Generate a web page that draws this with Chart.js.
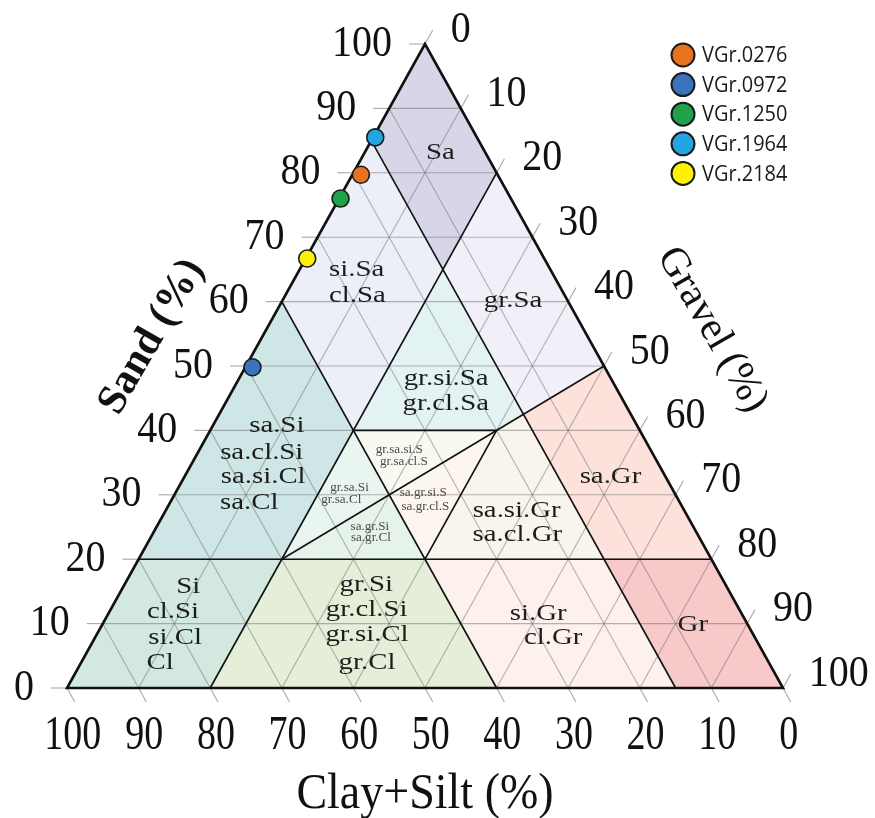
<!DOCTYPE html>
<html>
<head>
  <title>Ternary diagram - Sand / Gravel / Clay+Silt</title>
  <script src="https://cdn.jsdelivr.net/npm/chart.js"></script>
  <style>
    body { margin: 0; background: #fff; }
    #wrap { width: 875px; height: 818px; }
  </style>
</head>
<body>
  <div id="wrap"><canvas id="chart" width="875" height="818"></canvas></div>
  <script>
    // samples: sand % and gravel %, clay+silt is what is left
    var sampleNames = ['VGr.0276', 'VGr.0972', 'VGr.1250', 'VGr.1964', 'VGr.2184'];
    var sampleSand = [79.7, 49.8, 76.0, 85.5, 66.7];
    var sampleGravel = [1.2, 1.0, 0.2, 0.3, 0.2];
    var sampleColors = ['#e8731f', '#3b72bd', '#1fa34a', '#22a5e2', '#fff200'];

    var tickValues = [0, 10, 20, 30, 40, 50, 60, 70, 80, 90, 100];

    // classification fields, corners given as [sand, gravel]
    var regionNames = ['Sa', 'si.Sa', 'gr.Sa', 'gr.si.Sa', 'sa.Si', 'Si', 'gr.Si', 'si.Gr', 'Gr', 'sa.Gr', 'sa.si.Gr',
                       'gr.sa.Si', 'sa.gr.Si', 'gr.sa.si.S', 'sa.gr.si.S'];
    var regionCorners = [
      [[100, 0], [85, 0], [65, 20], [80, 20]],
      [[85, 0], [60, 0], [40, 20], [65, 20]],
      [[80, 20], [65, 20], [42.5, 42.5], [50, 50]],
      [[65, 20], [40, 20], [40, 40], [42.5, 42.5]],
      [[60, 0], [20, 0], [20, 20], [40, 20]],
      [[20, 0], [0, 0], [0, 20], [20, 20]],
      [[20, 20], [0, 20], [0, 60], [20, 40]],
      [[20, 40], [0, 60], [0, 85], [20, 65]],
      [[20, 65], [0, 85], [0, 100], [20, 80]],
      [[20, 65], [20, 80], [50, 50], [42.5, 42.5]],
      [[20, 40], [20, 65], [42.5, 42.5], [40, 40]],
      [[20, 20], [40, 20], [30, 30]],
      [[20, 20], [30, 30], [20, 40]],
      [[40, 20], [40, 40], [30, 30]],
      [[30, 30], [40, 40], [20, 40]]
    ];
    var regionColors = ['#d7d5e8', '#eceef8', '#f1f0f9', '#e3f3f3', '#cee6e5', '#d3e9e0', '#e4eed8', '#fdf1ed',
                        '#f7c9c9', '#fce2da', '#f9f5ec', '#e9f5ef', '#e5f3eb', '#f8f9f1', '#fcf6ef'];

    // field boundaries, [sand, gravel] -> [sand, gravel]
    var boundaries = [
      [[20, 0], [20, 80]],
      [[80, 20], [0, 20]],
      [[85, 0], [0, 85]],
      [[60, 0], [0, 60]],
      [[20, 20], [50, 50]],
      [[40, 20], [40, 40]],
      [[20, 40], [40, 40]]
    ];

    // field names, placed at [sand, gravel]
    var labelTexts = ['Sa', 'si.Sa', 'cl.Sa', 'gr.Sa', 'gr.si.Sa', 'gr.cl.Sa',
                      'sa.Si', 'sa.cl.Si', 'sa.si.Cl', 'sa.Cl', 'Si', 'cl.Si', 'si.Cl', 'Cl',
                      'gr.Si', 'gr.cl.Si', 'gr.si.Cl', 'gr.Cl', 'si.Gr', 'cl.Gr', 'Gr',
                      'sa.Gr', 'sa.si.Gr', 'sa.cl.Gr'];
    var labelSand = [83.1, 64.9, 60.9, 60.2, 48.1, 44.2, 40.8, 36.6, 32.8, 28.7, 15.7, 11.8, 7.8, 4.0,
                     16.0, 12.1, 8.2, 4.0, 11.6, 7.8, 9.8, 32.8, 27.6, 23.8];
    var labelGravel = [10.6, 8.0, 10.1, 32.2, 28.9, 30.8, 8.9, 8.9, 11.0, 11.1, 9.1, 8.9, 11.2, 11.0,
                       33.8, 35.8, 37.8, 39.9, 60.0, 64.0, 82.5, 59.5, 49.0, 51.0];
    var smallTexts = ['gr.sa.si.S', 'gr.sa.cl.S', 'gr.sa.Si', 'gr.sa.Cl', 'sa.gr.si.S', 'sa.gr.cl.S', 'sa.gr.Si', 'sa.gr.Cl'];
    var smallSand = [37.0, 35.1, 31.1, 29.2, 30.3, 28.1, 25.0, 23.3];
    var smallGravel = [27.9, 29.5, 23.9, 23.7, 34.6, 36.0, 29.8, 30.8];

    var SERIF = '"Liberation Serif", "Times New Roman", serif';

    function pt(chart, s, g) {
      return [chart.scales.x.getPixelForValue(g + s / 2), chart.scales.y.getPixelForValue(s)];
    }

    function txt(ctx, t, x, y, font, align, rot, sx, sy) {
      ctx.save();
      ctx.translate(x, y);
      if (rot) ctx.rotate(rot);
      ctx.scale(sx || 1, sy || 1);
      ctx.font = font;
      ctx.textAlign = align || 'center';
      ctx.textBaseline = 'middle';
      ctx.fillText(t, 0, 0);
      ctx.restore();
    }

    function line(ctx, a, b) {
      ctx.beginPath();
      ctx.moveTo(a[0], a[1]);
      ctx.lineTo(b[0], b[1]);
      ctx.stroke();
    }

    var ternaryPlugin = {
      id: 'ternary',
      beforeDatasetsDraw: function(chart) {
        var ctx = chart.ctx;
        ctx.save();

        // fields
        regionCorners.forEach(function(corners, i) {
          ctx.beginPath();
          corners.forEach(function(c, j) {
            var p = pt(chart, c[0], c[1]);
            if (j === 0) ctx.moveTo(p[0], p[1]); else ctx.lineTo(p[0], p[1]);
          });
          ctx.closePath();
          ctx.fillStyle = regionColors[i];
          ctx.fill();
        });

        // grid
        ctx.strokeStyle = 'rgba(110,110,110,0.5)';
        ctx.lineWidth = 1.1;
        tickValues.forEach(function(v) {
          if (v > 0 && v < 100) {
            line(ctx, pt(chart, v, 0), pt(chart, v, 100 - v));
            line(ctx, pt(chart, 0, v), pt(chart, 100 - v, v));
            line(ctx, pt(chart, 0, 100 - v), pt(chart, 100 - v, 0));
          }
        });

        // ticks outside the triangle + tick labels
        var TL = 16;
        function tick(p, q) {
          var dx = q[0] - p[0], dy = q[1] - p[1], n = Math.sqrt(dx * dx + dy * dy);
          var e = [p[0] + dx / n * TL, p[1] + dy / n * TL];
          line(ctx, p, e);
          return e;
        }
        ctx.fillStyle = '#111';
        tickValues.forEach(function(v) {
          ctx.strokeStyle = 'rgba(110,110,110,0.6)';
          var e1 = tick(pt(chart, v, 0), pt(chart, v, -1));
          txt(ctx, String(v), e1[0] - 17, e1[1], '40px ' + SERIF, 'right', 0, 1, 1.1);
          var e2 = tick(pt(chart, 100 - v, v), pt(chart, 101 - v, v));
          txt(ctx, String(v), e2[0] + 18, e2[1], '40px ' + SERIF, 'left', 0, 1, 1.1);
          var e3 = tick(pt(chart, 0, 100 - v), pt(chart, -1, 101 - v));
          txt(ctx, String(v), e3[0] - 2, e3[1] + 34, '38px ' + SERIF, 'center', 0, 1, 1.3);
        });

        // field boundaries
        ctx.strokeStyle = '#111';
        ctx.lineWidth = 1.6;
        boundaries.forEach(function(b) {
          line(ctx, pt(chart, b[0][0], b[0][1]), pt(chart, b[1][0], b[1][1]));
        });

        // outline
        ctx.lineWidth = 2.6;
        ctx.lineJoin = 'miter';
        var A = pt(chart, 0, 0), B = pt(chart, 0, 100), C = pt(chart, 100, 0);
        ctx.beginPath();
        ctx.moveTo(A[0], A[1]); ctx.lineTo(B[0], B[1]); ctx.lineTo(C[0], C[1]); ctx.closePath();
        ctx.stroke();

        // field names
        ctx.fillStyle = '#1c1c1c';
        labelTexts.forEach(function(t, i) {
          var p = pt(chart, labelSand[i], labelGravel[i]);
          txt(ctx, t, p[0], p[1], '24px ' + SERIF, 'center', 0, 1.2, 1);
        });
        ctx.fillStyle = '#4a4a4a';
        smallTexts.forEach(function(t, i) {
          var p = pt(chart, smallSand[i], smallGravel[i]);
          txt(ctx, t, p[0], p[1], '12.5px ' + SERIF, 'center', 0, 1.05, 1);
        });

        // axis titles
        ctx.fillStyle = '#111';
        var pc = pt(chart, 0, 50);
        txt(ctx, 'Clay+Silt (%)', pc[0], pc[1] + 107, '46px ' + SERIF, 'center', 0, 1, 1.1);
        var ps = pt(chart, 55, 0);
        txt(ctx, 'Sand (%)', ps[0] - 112, ps[1] + 3, 'bold 42px ' + SERIF, 'center', -Math.PI / 3, 1, 1);
        var pg = pt(chart, 55, 45);
        txt(ctx, 'Gravel (%)', pg[0] + 126, pg[1] - 4, '41px ' + SERIF, 'center', Math.PI / 3, 1, 1);

        ctx.restore();
      },
      afterDraw: function(chart) {
        // legend
        var ctx = chart.ctx;
        ctx.save();
        chart.data.datasets.forEach(function(ds, i) {
          var y = 55 + i * 29.6;
          ctx.beginPath();
          ctx.arc(683, y, 11.5, 0, Math.PI * 2);
          ctx.fillStyle = ds.backgroundColor;
          ctx.fill();
          ctx.lineWidth = 2;
          ctx.strokeStyle = '#1a1a1a';
          ctx.stroke();
          ctx.fillStyle = '#1a1a1a';
          txt(ctx, ds.label, 702, y + 1, '21px "Open Sans", "Noto Sans", sans-serif', 'left', 0, 0.95, 1.05);
        });
        ctx.restore();
      }
    };

    var datasets = sampleNames.map(function(name, i) {
      return {
        label: name,
        data: [{ x: sampleGravel[i] + sampleSand[i] / 2, y: sampleSand[i] }],
        backgroundColor: sampleColors[i],
        borderColor: '#1a1a1a',
        borderWidth: 1.6,
        pointRadius: 8.5
      };
    });

    var chart = new Chart(document.getElementById('chart'), {
      type: 'scatter',
      data: { datasets: datasets },
      options: {
        responsive: false,
        animation: false,
        layout: { padding: { left: 67, right: 92, top: 44, bottom: 130 } },
        scales: {
          x: { type: 'linear', min: 0, max: 100, display: false },
          y: { type: 'linear', min: 0, max: 100, display: false }
        },
        plugins: {
          legend: { display: false },
          tooltip: { enabled: false }
        }
      },
      plugins: [ternaryPlugin]
    });
  </script>
</body>
</html>
